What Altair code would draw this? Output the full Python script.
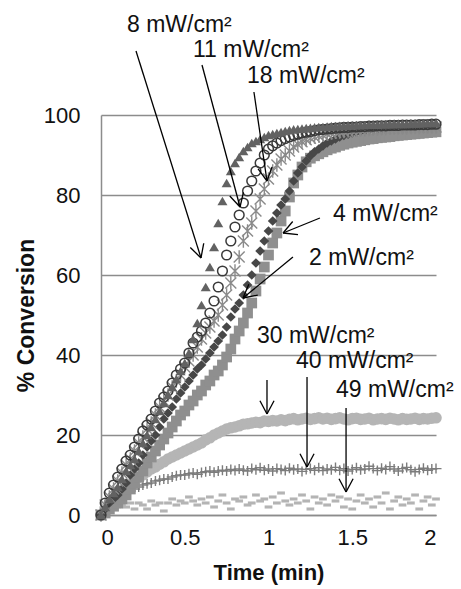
import math
import altair as alt
import pandas as pd

STEP = 0.025  # sampling interval of the readings (min)

p2 = [0, 1.5, 3, 4, 5,
      6.5, 8, 10, 11.5,
      13, 15, 17, 18.5,
      20, 22, 24, 25.5,
      27, 29, 30.5, 32,
      33.5, 35, 36.5, 37.5,
      39, 40.5, 42, 43.5,
      45, 47, 49.5, 51.5,
      53, 55, 57.5, 60,
      63, 66, 68.5, 71,
      73.5, 75.5, 77.5, 79,
      81, 83.5, 85.5, 87,
      88.5, 89.8, 90.8, 91.5,
      92.3, 93, 93.5, 94,
      94.5, 94.9, 95.2, 95.5,
      95.7, 95.9, 96.1, 96.3,
      96.4, 96.5, 96.6, 96.7,
      96.8, 96.9, 97, 97,
      97.1, 97.2, 97.2, 97.3,
      97.3, 97.4, 97.4, 97.5]

p4 = [0, 0.5, 1.5, 2.2, 3,
      4, 5, 6.5, 8,
      9.5, 11, 13, 14.5,
      16, 17.5, 19, 20.5,
      22, 23.5, 25, 26,
      27.5, 28.5, 30, 31,
      32.5, 33.5, 35, 36,
      37.5, 39.5, 41.5, 44,
      46, 48, 50.5, 53,
      56, 59, 62, 65,
      68, 70.5, 73.5, 76,
      79.5, 83, 85, 87,
      88.3, 89.2, 89.8, 90.3,
      90.8, 91.3, 91.7, 92,
      92.4, 92.7, 93, 93.2,
      93.4, 93.6, 93.8, 94,
      94.1, 94.3, 94.4, 94.5,
      94.6, 94.8, 94.9, 95,
      95.1, 95.2, 95.3, 95.4,
      95.5, 95.6, 95.7, 95.8]

p8 = [0, 2, 4, 5.5, 7,
      9, 11, 12.5, 14,
      16, 18, 20, 22,
      24, 26, 28, 30,
      32, 34, 36, 38,
      40.5, 44, 48, 52.5,
      57, 62, 67, 73,
      78.5, 83, 86, 88,
      89.5, 91, 92, 93,
      93.5, 94, 94.5, 95,
      95.2, 95.5, 95.7, 96,
      96.2, 96.4, 96.5, 96.6,
      96.7, 96.8, 96.9, 97,
      97, 97.1, 97.2, 97.2,
      97.3, 97.3, 97.4, 97.4,
      97.5, 97.5, 97.5, 97.6,
      97.6, 97.6, 97.7, 97.7,
      97.7, 97.8, 97.8, 97.8,
      97.8, 97.9, 97.9, 97.9,
      98, 98, 98, 98]

p11 = [0, 3, 5.5, 7.5, 9.5,
       11.5, 13.5, 15, 17,
       19, 21, 22.5, 24,
       26, 28, 29.5, 31,
       33, 35, 36.5, 38,
       40.5, 43, 44.5, 46,
       48, 50.5, 53.5, 57,
       61, 65, 68.5, 72,
       75, 78, 81, 83.5,
       86, 88, 90, 91.5,
       92.3, 93, 93.6, 94.1,
       94.5, 94.9, 95.2, 95.5,
       95.7, 95.9, 96.1, 96.3,
       96.4, 96.5, 96.6, 96.7,
       96.8, 96.9, 96.9, 97,
       97, 97.1, 97.1, 97.2,
       97.2, 97.3, 97.3, 97.3,
       97.4, 97.4, 97.4, 97.5,
       97.5, 97.5, 97.5, 97.6,
       97.6, 97.6, 97.7, 97.7]

p18 = [0, 2.5, 4.5, 6.5, 8.5,
       10.5, 12.5, 14, 16,
       18, 19.5, 21.5, 23,
       25, 27, 28.5, 30,
       32, 33.5, 35, 37,
       38.5, 40, 42, 44,
       45.5, 47, 48.5, 50,
       52.5, 55, 58, 61,
       64.5, 68.5, 71, 73,
       76, 79, 81.5, 84,
       86, 87.5, 89, 90,
       91, 92, 92.7, 93.3,
       93.8, 94.2, 94.5, 94.8,
       95, 95.3, 95.5, 95.7,
       95.8, 95.9, 96, 96.1,
       96.2, 96.3, 96.3, 96.4,
       96.5, 96.5, 96.6, 96.6,
       96.7, 96.7, 96.8, 96.8,
       96.8, 96.9, 96.9, 96.9,
       97, 97, 97, 97]

p30 = [0, 1.5, 3, 4, 5,
       6, 7, 7.8, 8.5,
       9.3, 10, 10.8, 11.5,
       12, 12.7, 13.3, 14,
       14.5, 15, 15.5, 16,
       16.5, 17, 17.5, 18,
       18.8, 19.3, 20, 20.5,
       21, 21.5, 21.8, 22,
       22.3, 22.7, 22.8, 23,
       23.2, 23.1, 23.5, 23.4,
       23.6, 23.5, 23.8, 23.6,
       23.9, 24.1, 23.8, 24,
       24.2, 23.9, 24.1, 24.3,
       24, 24.2, 23.9, 24.1,
       24.3, 24, 23.8, 24.1,
       24.2, 23.9, 24, 24.2,
       23.8, 24, 24.1, 23.9,
       24.2, 24, 23.8, 24.1,
       23.9, 24, 24.2, 23.9,
       24.1, 24, 24.2, 24.3]

p40 = [0, 2, 3.5, 4, 4.5,
       5, 5.5, 6, 6.5,
       7, 7.5, 7.8, 8,
       8.5, 8.7, 9, 9,
       9.5, 9.8, 10, 10,
       10.3, 10.5, 10.2, 10.6,
       10.8, 11, 10.7, 11,
       11.2, 11, 11.4, 11.1,
       11.5, 11.2, 11, 11.6,
       11.3, 11.8, 11.2, 11.5,
       11, 11.6, 11.4, 11.1,
       11.7, 11.3, 11.5, 10.9,
       11.4, 11.6, 11.2, 11.8,
       11.1, 11.5, 11.3, 11.9,
       11.2, 11.6, 11, 11.4,
       11.8, 11.3, 11.5, 12.2,
       11.6, 11.1, 11.7, 11.4,
       12.1, 11.5, 11, 11.6,
       11.9, 11.3, 10.8, 11.4,
       11.7, 11.2, 11.5, 11.6]

p49 = [0, 0.5, 1, 1.5, 2,
       2.5, 2, 3, 1.5,
       3, 2.5, 1.5, 3.5,
       2.5, 3, 1, 3,
       4, 2.5, 3.5, 3,
       4.5, 3.5, 2.5, 4,
       3, 4.5, 2, 3.5,
       5, 3, 1.5, 4,
       3.5, 4.5, 2.5, 3,
       5, 3.5, 4, 2,
       4.5, 3, 5.5, 3.5,
       2.5, 4, 3, 5,
       3.5, 1.5, 4.5, 3,
       4, 2.5, 5, 3.5,
       4.5, 2, 4, 1.5,
       3.5, 5, 3, 4,
       2, 4.5, 3, 5.5,
       1.5, 3.5, 4.5, 2.5,
       4, 3, 5, 1.5,
       3.5, 4.5, 2.5, 4]

# annotations
ann_labels = ["8 mW/cm²", "11 mW/cm²", "18 mW/cm²", "4 mW/cm²",
              "2 mW/cm²", "30 mW/cm²", "40 mW/cm²", "49 mW/cm²"]
ann_tx = [0.155, 0.549, 0.872, 1.385, 1.242, 0.931, 1.164, 1.403]
ann_ty = [120.75, 114.5, 108, 73.5, 62.5, 43, 36.75, 29.5]
arr_x1 = [0.209, 0.603, 0.913, 1.307, 1.146, 0.991, 1.230, 1.463]
arr_y1 = [116, 112.5, 105.75, 74.25, 64.5, 33.75, 34.5, 26.75]
arr_x2 = [0.597, 0.830, 0.991, 1.087, 0.848, 0.991, 1.230, 1.463]
arr_y2 = [64.25, 77, 83.5, 70.5, 54.25, 25.25, 12, 5.75]

W, H = 335, 400
XMAX, YMAX = 2.0, 100.0
HEAD_LEN = 15.0     # arrowhead arm length (px)
HEAD_HALF = 28.0    # arrowhead half-angle (deg)

x_enc = alt.X("t:Q", scale=alt.Scale(domain=[0, XMAX], nice=False, zero=False),
              axis=alt.Axis(values=[0, 0.5, 1, 1.5, 2], format="~g", grid=False,
                            ticks=False, tickSize=0, domainColor="#8c8c8c", domainWidth=1.5,
                            labelFont="Liberation Sans", labelFontSize=22, labelColor="#111",
                            labelBaseline="alphabetic", labelPadding=29,
                            title="Time (min)", titleFont="Liberation Sans", titleFontSize=22,
                            titleFontWeight="bold", titleColor="#111",
                            titleBaseline="alphabetic", titleY=64, titleX=W / 2))
y_enc = alt.Y("v:Q", scale=alt.Scale(domain=[0, YMAX], nice=False, zero=False),
              axis=alt.Axis(values=[0, 20, 40, 60, 80, 100], grid=True,
                            gridColor="#8c8c8c", gridWidth=1.5,
                            ticks=False, tickSize=0, domainColor="#8c8c8c", domainWidth=1.5,
                            labelFont="Liberation Sans", labelFontSize=22, labelColor="#111",
                            labelPadding=21,
                            title="% Conversion", titleFont="Liberation Sans", titleFontSize=23,
                            titleFontWeight="bold", titleColor="#111",
                            titleAngle=270, titleBaseline="alphabetic", titleAlign="center",
                            titleX=-68, titleY=H / 2))


def frame(vals):
    return pd.DataFrame({"t": [i * STEP for i in range(len(vals))], "v": vals})


ASTER = "M-1,-1L1,1M-1,1L1,-1M0,-1.25L0,1.25"
PLUS = "M-1.1,0L1.1,0M0,-1L0,1"
DASH = "M-1,-0.4L1,-0.4L1,0.4L-1,0.4Z"

layers = []
specs = [
    (p49, dict(shape=DASH, filled=True, color="#b4b4b4", size=60, opacity=1)),
    (p40, dict(shape=PLUS, filled=False, color="#7c7c7c", size=100, strokeWidth=1.4, opacity=1)),
    (p30, dict(shape="circle", filled=True, color="#b5b5b5", size=135, opacity=1)),
    (p4, dict(shape="square", filled=True, color="#8f8f8f", size=115, opacity=1)),
    (p2, dict(shape="diamond", filled=True, color="#474747", size=95, opacity=1)),
    (p18, dict(shape=ASTER, filled=False, color="#8a8a8a", size=120, strokeWidth=1.4, opacity=1)),
    (p11, dict(shape="circle", filled=False, color="#3a3a3a", size=95, strokeWidth=1.5, opacity=1)),
    (p8, dict(shape="triangle-up", filled=True, color="#626262", size=100, opacity=1)),
]
for vals, kw in specs:
    layers.append(alt.Chart(frame(vals)).mark_point(**kw).encode(x=x_enc, y=y_enc))

# arrows: shaft + two arms computed in pixel space from the annotation geometry
px_per_x = W / XMAX
px_per_y = H / YMAX
segs = {"t": [], "v": [], "t2": [], "v2": []}
for a, b, c, d in zip(arr_x1, arr_y1, arr_x2, arr_y2):
    segs["t"].append(a); segs["v"].append(b); segs["t2"].append(c); segs["v2"].append(d)
    dx = (c - a) * px_per_x
    dy = -(d - b) * px_per_y
    ang = math.atan2(dy, dx)
    for s in (-1, 1):
        back = ang + math.pi + s * math.radians(HEAD_HALF)
        ex = HEAD_LEN * math.cos(back)
        ey = HEAD_LEN * math.sin(back)
        segs["t"].append(c); segs["v"].append(d)
        segs["t2"].append(c + ex / px_per_x); segs["v2"].append(d - ey / px_per_y)

arr_df = pd.DataFrame(segs)
txt_df = pd.DataFrame({"t": ann_tx, "v": ann_ty, "label": ann_labels})

rules = alt.Chart(arr_df).mark_rule(color="#000", strokeWidth=1.3, clip=False).encode(
    x=x_enc, y=y_enc, x2="t2:Q", y2="v2:Q")
texts = alt.Chart(txt_df).mark_text(
    align="left", baseline="alphabetic", font="Liberation Sans", fontSize=23,
    color="#111", clip=False).encode(x=x_enc, y=y_enc, text="label:N")

chart = alt.layer(*layers, rules, texts).properties(
    width=W, height=H,
    autosize=alt.AutoSizeParams(type="none"),
    padding={"left": 101, "top": 115, "right": 25, "bottom": 74},
    background="white",
).configure_view(stroke=None)

chart.save("out.html", embed_options={"renderer": "svg", "actions": False})
